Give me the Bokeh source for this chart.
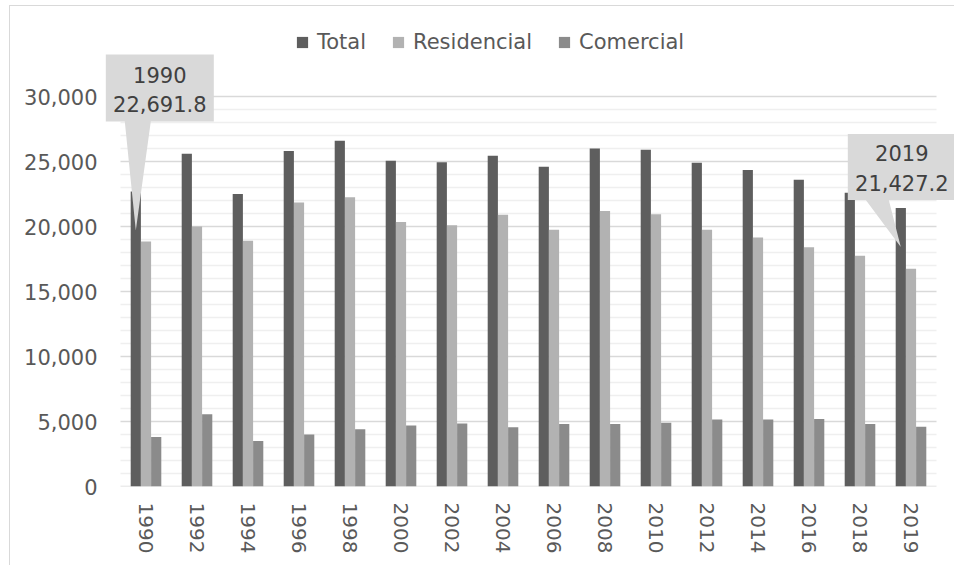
import numpy as np
from bokeh.plotting import figure
from bokeh.models import (Range1d, FixedTicker, NumeralTickFormatter, Legend, LegendItem,
                          Label, PolyAnnotation)
from bokeh.embed import file_html
from bokeh.resources import INLINE

# ---------------- data ----------------
years = ["1990", "1992", "1994", "1996", "1998", "2000", "2002", "2004",
         "2006", "2008", "2010", "2012", "2014", "2016", "2018", "2019"]
total = [22691.8, 25600, 22500, 25800, 26600, 25050, 24950, 25450,
         24600, 26000, 25900, 24900, 24350, 23600, 22600, 21427.2]
residencial = [18850, 20000, 18900, 21850, 22250, 20350, 20100, 20900,
               19750, 21200, 20950, 19750, 19150, 18400, 17750, 16750]
comercial = [3800, 5550, 3500, 4000, 4400, 4700, 4850, 4550,
             4800, 4800, 4900, 5150, 5150, 5200, 4800, 4600]
series_names = ["Total", "Residencial", "Comercial"]
y_ticks = [0, 5000, 10000, 15000, 20000, 25000, 30000]
y_minor = [v for v in range(0, 30001, 1000) if v not in y_ticks]
callout_years = ["1990", "2019"]

# ---------------- style ----------------
FONT = "DejaVu Sans"
FS = "21px"
FS_X = "20px"
TXT = "#595959"
colors = ["#5e5e5e", "#b2b2b2", "#8b8b8b"]
offsets = [-0.2, 0.0, 0.2]
W, H = 945, 560
ML, MR, MT, MB = 94, 0, 8, 80
FW, FH = W - ML - MR, H - MT - MB
PX_CAT = 51.0                      # pixels per category
Y_END = 36308
px_y = FH / Y_END                  # pixels per unit
n = len(years)
x0 = -0.5 - 16 / PX_CAT
x1 = x0 + FW / PX_CAT

p = figure(width=W, height=H, x_range=Range1d(x0, x1),
           y_range=Range1d(0, Y_END), output_backend="svg", toolbar_location=None,
           title=None, min_border_left=ML, min_border_right=MR,
           min_border_top=MT, min_border_bottom=MB)
p.outline_line_color = None
p.background_fill_color = "white"
p.border_fill_color = "white"
p.styles = {"border-left": "1px solid #d9d9d9", "border-top": "1px solid #d9d9d9",
            "margin-left": "9px", "margin-top": "5px"}

# gridlines limited to the category area
p.xgrid.visible = False
p.ygrid.visible = False
p.segment(x0=[-0.5] * len(y_minor), x1=[n - 0.5] * len(y_minor), y0=y_minor, y1=y_minor,
          line_color="#efefef", line_width=1.5)
p.segment(x0=[-0.5] * len(y_ticks), x1=[n - 0.5] * len(y_ticks), y0=y_ticks, y1=y_ticks,
          line_color="#d9d9d9", line_width=1.5)

idx = list(range(n))
renderers = []
for vals, col, off in zip([total, residencial, comercial], colors, offsets):
    r = p.vbar(x=[i + off for i in idx], top=vals, width=0.2,
               fill_color=col, line_color=None)
    renderers.append(r)

# y axis
p.yaxis.ticker = FixedTicker(ticks=y_ticks)
p.yaxis.formatter = NumeralTickFormatter(format="0,0")
p.yaxis.axis_line_color = None
p.yaxis.major_tick_line_color = None
p.yaxis.minor_tick_line_color = None
p.yaxis.major_label_standoff = 1
p.yaxis.major_label_text_font = FONT
p.yaxis.major_label_text_font_size = FS
p.yaxis.major_label_text_color = TXT

# x axis
p.xaxis.ticker = FixedTicker(ticks=idx)
p.xaxis.major_label_overrides = {i: y for i, y in zip(idx, years)}
p.xaxis.major_label_orientation = -np.pi / 2
p.xaxis.axis_line_color = None
p.xaxis.major_tick_line_color = None
p.xaxis.minor_tick_line_color = None
p.xaxis.major_label_standoff = 10
p.xaxis.major_label_text_font = FONT
p.xaxis.major_label_text_font_size = FS_X
p.xaxis.major_label_text_color = TXT

# legend
legend = Legend(items=[LegendItem(label=s, renderers=[r]) for s, r in zip(series_names, renderers)],
                orientation="horizontal", location=(191, 432),
                glyph_width=14, glyph_height=14, label_standoff=8, spacing=25,
                padding=0, margin=0, border_line_color=None, background_fill_alpha=0,
                label_text_font=FONT, label_text_font_size=FS, label_text_color=TXT)
p.add_layout(legend)

# callouts (geometry in screen px relative to the pointer tip, y downwards)
geom = {
    "1990": dict(box=(-30, 78, -176, -109), base=(-11, 15), cx=24, lines=(-156, -127)),
    "2019": dict(box=(-53, 54, -113, -47), base=(-35, -12), cx=1, lines=(-94, -64)),
}
for yr in callout_years:
    i = years.index(yr)
    v = total[i]
    tx, ty = i + offsets[0], v - 3000
    g = geom[yr]
    L, R, T, B = g["box"]
    b1, b2 = g["base"]
    pts = [(L, T), (R, T), (R, B), (b2, B), (0, 0), (b1, B), (L, B)]
    xs = [tx + dx / PX_CAT for dx, dy in pts]
    ys = [ty - dy / px_y for dx, dy in pts]
    p.add_layout(PolyAnnotation(xs=xs, ys=ys, fill_color="#d9d9d9", fill_alpha=1,
                                line_color=None))
    for txt, dy in zip([yr, f"{v:,.1f}"], g["lines"]):
        p.add_layout(Label(x=tx + g["cx"] / PX_CAT, y=ty - dy / px_y, text=txt,
                           text_align="center", text_baseline="middle",
                           text_font=FONT, text_font_size=FS, text_color="#404040"))

open("out.html", "w").write(file_html(p, INLINE))
